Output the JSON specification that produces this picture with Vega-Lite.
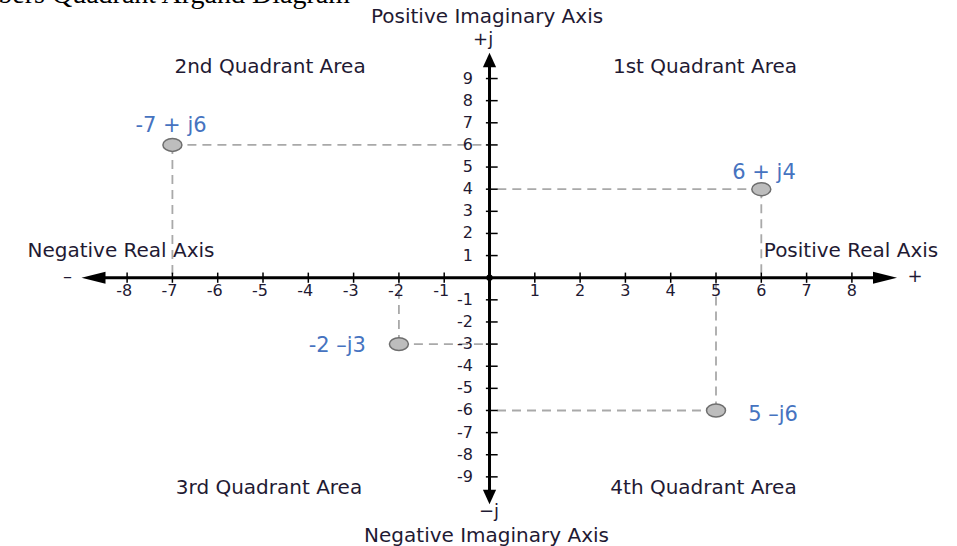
{
  "$schema": "https://vega.github.io/schema/vega-lite/v6.json",
  "width": 957,
  "height": 546,
  "autosize": "none",
  "padding": 0,
  "background": "white",
  "config": {"view": {"stroke": null}},
  "datasets": {
    "guides": [
      {"x": -7, "y": 6, "x2": 0, "y2": 6},
      {"x": -7, "y": 6, "x2": -7, "y2": 0},
      {"x": 6, "y": 4, "x2": 0, "y2": 4},
      {"x": 6, "y": 4, "x2": 6, "y2": 0},
      {"x": -2, "y": -3, "x2": 0, "y2": -3},
      {"x": -2, "y": -3, "x2": -2, "y2": 0},
      {"x": 5, "y": -6, "x2": 0, "y2": -6},
      {"x": 5, "y": -6, "x2": 5, "y2": 0}
    ],
    "axes": [
      {"x": -8.74, "y": 0, "x2": 8.73, "y2": 0},
      {"x": 0, "y": 9.84, "x2": 0, "y2": -9.91}
    ],
    "arrows": [
      {"x": -8.742, "y": 0, "dir": "left"},
      {"x": 8.731, "y": 0, "dir": "right"},
      {"x": 0, "y": 9.837, "dir": "up"},
      {"x": 0, "y": -9.91, "dir": "down"}
    ],
    "origin": [{"x": 0, "y": 0}],
    "xticks": [
      {"v": -8, "label": "-8"}, {"v": -7, "label": "-7"}, {"v": -6, "label": "-6"}, {"v": -5, "label": "-5"},
      {"v": -4, "label": "-4"}, {"v": -3, "label": "-3"}, {"v": -2, "label": "-2"}, {"v": -1, "label": "-1"},
      {"v": 1, "label": "1"}, {"v": 2, "label": "2"}, {"v": 3, "label": "3"}, {"v": 4, "label": "4"},
      {"v": 5, "label": "5"}, {"v": 6, "label": "6"}, {"v": 7, "label": "7"}, {"v": 8, "label": "8"}
    ],
    "yticks": [
      {"v": 9, "label": "9"}, {"v": 8, "label": "8"}, {"v": 7, "label": "7"}, {"v": 6, "label": "6"},
      {"v": 5, "label": "5"}, {"v": 4, "label": "4"}, {"v": 3, "label": "3"}, {"v": 2, "label": "2"},
      {"v": 1, "label": "1"}, {"v": -1, "label": "-1"}, {"v": -2, "label": "-2"}, {"v": -3, "label": "-3"},
      {"v": -4, "label": "-4"}, {"v": -5, "label": "-5"}, {"v": -6, "label": "-6"}, {"v": -7, "label": "-7"},
      {"v": -8, "label": "-8"}, {"v": -9, "label": "-9"}
    ],
    "points": [
      {"x": -7, "y": 6, "label": "-7 + j6", "lx": -7.03, "ly": 6.86},
      {"x": 6, "y": 4, "label": "6 + j4", "lx": 6.06, "ly": 4.73},
      {"x": -2, "y": -3, "label": "-2 –j3", "lx": -3.36, "ly": -3.1},
      {"x": 5, "y": -6, "label": "5 –j6", "lx": 6.26, "ly": -6.22}
    ],
    "names": [
      {"label": "Positive Imaginary Axis", "x": -0.055, "y": 11.78},
      {"label": "Negative Imaginary Axis", "x": -0.066, "y": -11.68},
      {"label": "Negative Real Axis", "x": -8.135, "y": 1.21},
      {"label": "Positive Real Axis", "x": 7.98, "y": 1.21},
      {"label": "2nd Quadrant Area", "x": -4.845, "y": 9.52},
      {"label": "1st Quadrant Area", "x": 4.757, "y": 9.52},
      {"label": "3rd Quadrant Area", "x": -4.868, "y": -9.5},
      {"label": "4th Quadrant Area", "x": 4.724, "y": -9.5}
    ],
    "signs": [
      {"label": "+j", "x": -0.14, "y": 10.74},
      {"label": "−j", "x": -0.01, "y": -10.6},
      {"label": "–", "x": -9.316, "y": 0.05},
      {"label": "+", "x": 9.393, "y": 0.03}
    ],
    "title": [{"label": "Complex Numbers Quadrant Argand Diagram", "x": -3.08, "y": 12.43}]
  },
  "layer": [
    {
      "data": {"name": "guides"},
      "mark": {"type": "rule", "color": "#a9a9a9", "strokeWidth": 1.8, "strokeDash": [9, 6]},
      "encoding": {
        "x": {"field": "x", "type": "quantitative", "scale": {"domain": [-10.806, 10.32], "nice": false, "zero": false}, "axis": null},
        "y": {"field": "y", "type": "quantitative", "scale": {"domain": [-12.124, 12.549], "nice": false, "zero": false}, "axis": null},
        "x2": {"field": "x2"},
        "y2": {"field": "y2"}
      }
    },
    {
      "data": {"name": "axes"},
      "mark": {"type": "rule", "color": "black", "strokeWidth": 3},
      "encoding": {
        "x": {"field": "x", "type": "quantitative"},
        "y": {"field": "y", "type": "quantitative"},
        "x2": {"field": "x2"},
        "y2": {"field": "y2"}
      }
    },
    {
      "data": {"name": "xticks"},
      "mark": {"type": "rule", "color": "black", "strokeWidth": 1.5},
      "encoding": {
        "x": {"field": "v", "type": "quantitative"},
        "y": {"datum": -0.23, "type": "quantitative"},
        "y2": {"datum": 0.23}
      }
    },
    {
      "data": {"name": "yticks"},
      "mark": {"type": "rule", "color": "black", "strokeWidth": 1.5},
      "encoding": {
        "y": {"field": "v", "type": "quantitative"},
        "x": {"datum": -0.08, "type": "quantitative"},
        "x2": {"datum": 0.18}
      }
    },
    {
      "data": {"name": "arrows"},
      "mark": {"type": "point", "filled": true, "color": "black", "opacity": 1, "size": 576, "strokeWidth": 0},
      "encoding": {
        "x": {"field": "x", "type": "quantitative"},
        "y": {"field": "y", "type": "quantitative"},
        "shape": {
          "field": "dir", "type": "nominal", "legend": null,
          "scale": {
            "domain": ["left", "right", "up", "down"],
            "range": ["M-1,0L1,-0.5L1,0.5Z", "M1,0L-1,-0.5L-1,0.5Z", "M0,-0.6L-0.55,0.6L0.55,0.6Z", "M0,0.6L-0.55,-0.6L0.55,-0.6Z"]
          }
        }
      }
    },
    {
      "data": {"name": "origin"},
      "mark": {"type": "circle", "color": "black", "opacity": 1, "size": 40},
      "encoding": {
        "x": {"field": "x", "type": "quantitative"},
        "y": {"field": "y", "type": "quantitative"}
      }
    },
    {
      "data": {"name": "points"},
      "mark": {"type": "point", "shape": "M-1,0A1,0.68,0,1,1,1,0A1,0.68,0,1,1,-1,0Z", "size": 361, "fill": "#bdbdbd", "stroke": "#6e6e6e", "strokeWidth": 1.5, "opacity": 1, "fillOpacity": 1},
      "encoding": {
        "x": {"field": "x", "type": "quantitative"},
        "y": {"field": "y", "type": "quantitative"}
      }
    },
    {
      "data": {"name": "points"},
      "mark": {"type": "text", "font": "DejaVu Sans", "fontSize": 21, "color": "#4673c0", "align": "center", "baseline": "middle"},
      "encoding": {
        "x": {"field": "lx", "type": "quantitative"},
        "y": {"field": "ly", "type": "quantitative"},
        "text": {"field": "label"}
      }
    },
    {
      "data": {"name": "xticks"},
      "transform": [{"filter": "datum.v > 0"}],
      "mark": {"type": "text", "font": "DejaVu Sans", "fontSize": 16, "color": "#1f1a33", "align": "center", "baseline": "middle"},
      "encoding": {
        "x": {"field": "v", "type": "quantitative"},
        "y": {"datum": -0.6, "type": "quantitative"},
        "text": {"field": "label"}
      }
    },
    {
      "data": {"name": "xticks"},
      "transform": [{"filter": "datum.v < 0"}],
      "mark": {"type": "text", "font": "DejaVu Sans", "fontSize": 16, "color": "#1f1a33", "align": "center", "baseline": "middle", "dx": -3},
      "encoding": {
        "x": {"field": "v", "type": "quantitative"},
        "y": {"datum": -0.6, "type": "quantitative"},
        "text": {"field": "label"}
      }
    },
    {
      "data": {"name": "yticks"},
      "mark": {"type": "text", "font": "DejaVu Sans", "fontSize": 16, "color": "#1f1a33", "align": "right", "baseline": "middle"},
      "encoding": {
        "y": {"field": "v", "type": "quantitative"},
        "x": {"datum": -0.364, "type": "quantitative"},
        "text": {"field": "label"}
      }
    },
    {
      "data": {"name": "names"},
      "mark": {"type": "text", "font": "DejaVu Sans", "fontSize": 20, "color": "#1f1a33", "align": "center", "baseline": "middle"},
      "encoding": {
        "x": {"field": "x", "type": "quantitative"},
        "y": {"field": "y", "type": "quantitative"},
        "text": {"field": "label"}
      }
    },
    {
      "data": {"name": "signs"},
      "mark": {"type": "text", "font": "DejaVu Sans", "fontSize": 18, "color": "#1f1a33", "align": "center", "baseline": "middle"},
      "encoding": {
        "x": {"field": "x", "type": "quantitative"},
        "y": {"field": "y", "type": "quantitative"},
        "text": {"field": "label"}
      }
    },
    {
      "data": {"name": "title"},
      "mark": {"type": "text", "font": "Liberation Serif", "fontSize": 28, "color": "black", "align": "right", "baseline": "alphabetic"},
      "encoding": {
        "x": {"field": "x", "type": "quantitative"},
        "y": {"field": "y", "type": "quantitative"},
        "text": {"field": "label"}
      }
    }
  ]
}
